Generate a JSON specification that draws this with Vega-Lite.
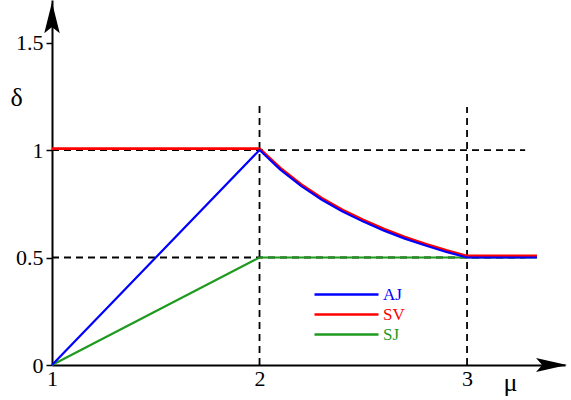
{
  "$schema": "https://vega.github.io/schema/vega-lite/v6.json",
  "autosize": "none",
  "width": 513,
  "height": 365,
  "padding": {"left": 52, "top": 0, "right": 6, "bottom": 35},
  "background": "white",
  "config": {
    "view": {"stroke": null},
    "font": "Liberation Serif",
    "axis": {
      "labelFont": "Liberation Serif",
      "labelFontSize": 22,
      "labelColor": "black",
      "titleFont": "Liberation Serif",
      "titleFontSize": 26,
      "titleFontWeight": "normal",
      "titleColor": "black",
      "domainColor": "black",
      "domainWidth": 2,
      "grid": false
    },
    "legend": {
      "labelFont": "Liberation Serif",
      "labelFontSize": 17
    }
  },
  "datasets": {
    "curves": [
      {"mu": 1, "delta": 0, "series": "SJ"},
      {"mu": 2, "delta": 0.5, "series": "SJ"},
      {"mu": 3.337, "delta": 0.5, "series": "SJ"},
      {"mu": 1, "delta": 1, "series": "SV"},
      {"mu": 2, "delta": 1, "series": "SV"},
      {"mu": 2.1, "delta": 0.909, "series": "SV"},
      {"mu": 2.2, "delta": 0.833, "series": "SV"},
      {"mu": 2.3, "delta": 0.769, "series": "SV"},
      {"mu": 2.4, "delta": 0.714, "series": "SV"},
      {"mu": 2.5, "delta": 0.667, "series": "SV"},
      {"mu": 2.6, "delta": 0.625, "series": "SV"},
      {"mu": 2.7, "delta": 0.588, "series": "SV"},
      {"mu": 2.8, "delta": 0.556, "series": "SV"},
      {"mu": 2.9, "delta": 0.526, "series": "SV"},
      {"mu": 3, "delta": 0.5, "series": "SV"},
      {"mu": 3.337, "delta": 0.5, "series": "SV"},
      {"mu": 1, "delta": 0, "series": "AJ"},
      {"mu": 2, "delta": 1, "series": "AJ"},
      {"mu": 2.1, "delta": 0.909, "series": "AJ"},
      {"mu": 2.2, "delta": 0.833, "series": "AJ"},
      {"mu": 2.3, "delta": 0.769, "series": "AJ"},
      {"mu": 2.4, "delta": 0.714, "series": "AJ"},
      {"mu": 2.5, "delta": 0.667, "series": "AJ"},
      {"mu": 2.6, "delta": 0.625, "series": "AJ"},
      {"mu": 2.7, "delta": 0.588, "series": "AJ"},
      {"mu": 2.8, "delta": 0.556, "series": "AJ"},
      {"mu": 2.9, "delta": 0.526, "series": "AJ"},
      {"mu": 3, "delta": 0.5, "series": "AJ"},
      {"mu": 3.337, "delta": 0.5, "series": "AJ"}
    ],
    "guides": [
      {"x1": 1, "x2": 3.28, "y1": 1, "y2": 1},
      {"x1": 1, "x2": 3.28, "y1": 0.5, "y2": 0.5},
      {"x1": 2, "x2": 2, "y1": 0, "y2": 1.21},
      {"x1": 3, "x2": 3, "y1": 0, "y2": 1.2}
    ]
  },
  "layer": [
    {
      "data": {"name": "guides"},
      "mark": {"type": "rule", "strokeDash": [7, 5], "strokeWidth": 1.8, "color": "black"},
      "encoding": {
        "x": {
          "field": "x1", "type": "quantitative",
          "scale": {"domain": [1, 3.472], "nice": false, "zero": false},
          "axis": {
            "values": [1, 2, 3],
            "labelExpr": "'' + datum.value",
            "ticks": false,
            "labelPadding": 3,
            "labelFlush": false,
            "title": "μ",
            "titleAngle": 0,
            "titleX": 458,
            "titleY": 17,
            "titleAlign": "center",
            "titleBaseline": "middle"
          }
        },
        "x2": {"field": "x2"},
        "y": {
          "field": "y1", "type": "quantitative",
          "scale": {"domain": [0, 1.698], "nice": false, "zero": false},
          "axis": {
            "values": [0, 0.5, 1, 1.5],
            "labelExpr": "'' + datum.value",
            "ticks": true,
            "tickSize": 6,
            "tickWidth": 1.5,
            "tickColor": "black",
            "labelPadding": 3,
            "labelFlush": false,
            "title": "δ",
            "titleAngle": 0,
            "titleX": -36,
            "titleY": 97,
            "titleAlign": "center",
            "titleBaseline": "middle"
          }
        },
        "y2": {"field": "y2"}
      }
    },
    {
      "data": {"name": "curves"},
      "transform": [{"filter": "datum.series === 'SJ'"}],
      "mark": {"type": "line", "strokeWidth": 2.2},
      "encoding": {
        "x": {"field": "mu", "type": "quantitative"},
        "y": {"field": "delta", "type": "quantitative"},
        "color": {"field": "series", "type": "nominal"}
      }
    },
    {
      "data": {"name": "curves"},
      "transform": [{"filter": "datum.series === 'SV'"}],
      "mark": {"type": "line", "strokeWidth": 2.8, "yOffset": -1.5},
      "encoding": {
        "x": {"field": "mu", "type": "quantitative"},
        "y": {"field": "delta", "type": "quantitative"},
        "color": {"field": "series", "type": "nominal"}
      }
    },
    {
      "data": {"name": "curves"},
      "transform": [{"filter": "datum.series === 'AJ'"}],
      "mark": {"type": "line", "strokeWidth": 2.2},
      "encoding": {
        "x": {"field": "mu", "type": "quantitative"},
        "y": {"field": "delta", "type": "quantitative"},
        "color": {
          "field": "series", "type": "nominal",
          "scale": {"domain": ["AJ", "SV", "SJ"], "range": ["#0000ff", "#ff0000", "#1e9a1e"]},
          "legend": {
            "orient": "none",
            "legendX": 285,
            "legendY": 285,
            "title": null,
            "padding": 0,
            "symbolType": "M-4,0L4,0",
            "symbolSize": 256,
            "symbolStrokeWidth": 2.5,
            "rowPadding": 2,
            "labelOffset": 27,
            "encode": {
              "labels": {"update": {"fill": {"scale": "color", "field": "value"}}}
            }
          }
        }
      }
    },
    {
      "data": {"values": [{"a": 1}]},
      "mark": {"type": "point", "shape": "M0,-1L0.5,1L0,0.6L-0.5,1Z", "size": 961, "filled": true, "color": "black", "opacity": 1},
      "encoding": {
        "x": {"datum": 1, "type": "quantitative"},
        "y": {"datum": 1.616, "type": "quantitative"}
      }
    },
    {
      "data": {"values": [{"a": 1}]},
      "mark": {"type": "point", "shape": "M0,-1L0.45,1L0,0.6L-0.45,1Z", "size": 961, "filled": true, "color": "black", "opacity": 1, "angle": 90},
      "encoding": {
        "x": {"datum": 3.407, "type": "quantitative"},
        "y": {"datum": 0, "type": "quantitative"}
      }
    }
  ]
}
